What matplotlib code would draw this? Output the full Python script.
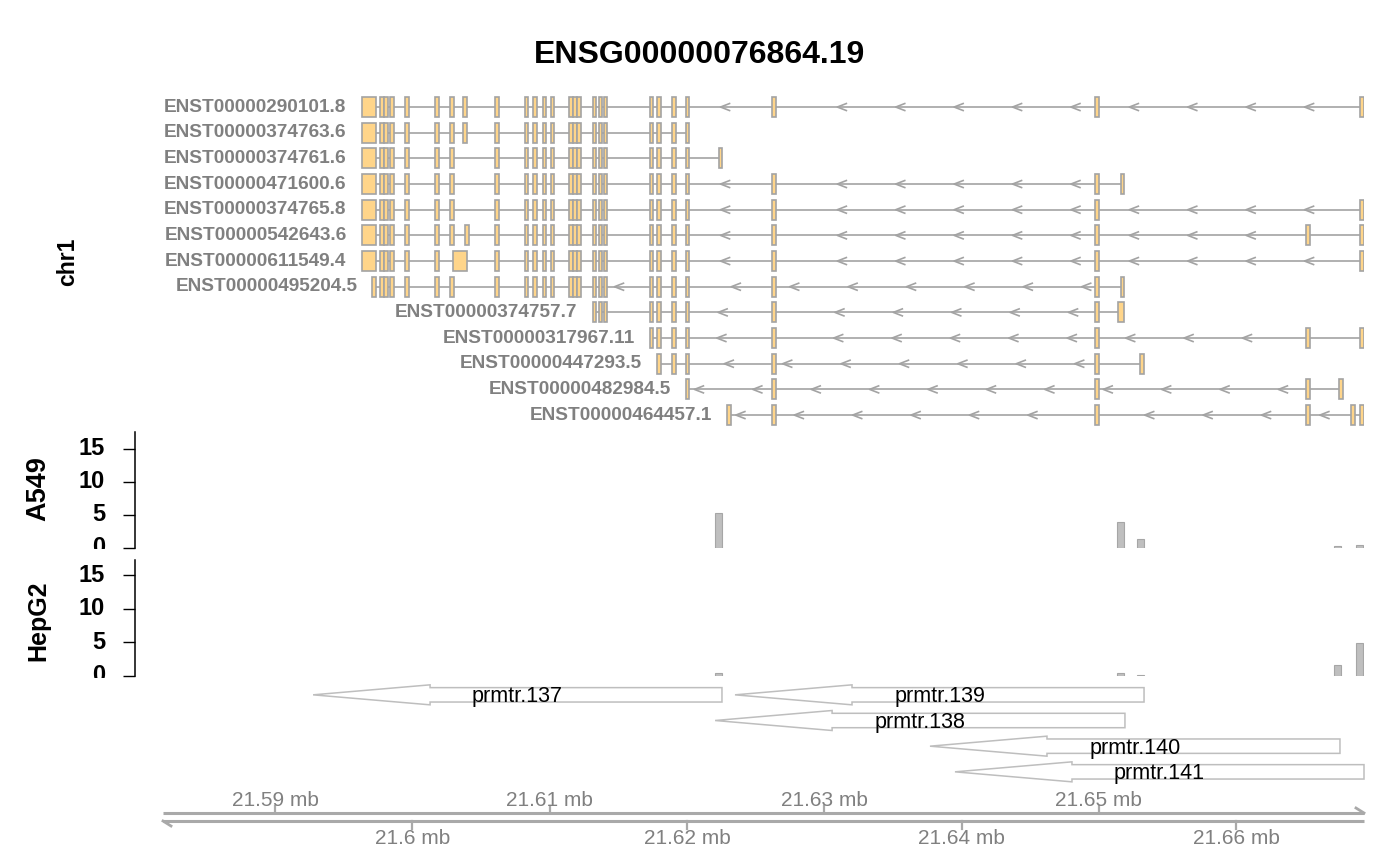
import matplotlib
matplotlib.use("Agg")
import matplotlib.pyplot as plt
from matplotlib.patches import Rectangle, Polygon
from matplotlib.transforms import Bbox, TransformedBbox, blended_transform_factory

plt.rcParams['font.family'] = ['Liberation Sans', 'DejaVu Sans']

# ------------------------------------------------------------
# Data
# ------------------------------------------------------------
gene_id = "ENSG00000076864.19"
chrom = "chr1"
view_from = 21581840
view_to = 21669310

exon_start = [21596300, 21597082, 21597667, 21597957, 21598397, 21599487,
              21601667, 21602767, 21603707, 21603837, 21602930, 21606037,
              21608187, 21608807, 21609497, 21610087, 21611427, 21611717,
              21612017, 21613137, 21613577, 21613947, 21617297, 21617837,
              21618927, 21619917, 21622317, 21622937, 21626217, 21649737,
              21651597, 21651420, 21653017, 21665107, 21667507, 21668387,
              21669037]
exon_end = [21597320, 21597338, 21597923, 21598213, 21598653, 21599743,
            21601923, 21603023, 21603963, 21604093, 21603950, 21606293,
            21608443, 21609063, 21609753, 21610343, 21611683, 21611973,
            21612273, 21613393, 21613833, 21614203, 21617553, 21618093,
            21619183, 21620173, 21622573, 21623193, 21626473, 21649993,
            21651853, 21651800, 21653273, 21665363, 21667763, 21668643,
            21669293]

core = list(range(12, 26))
tx_names = ["ENST00000290101.8", "ENST00000374763.6", "ENST00000374761.6",
            "ENST00000471600.6", "ENST00000374765.8", "ENST00000542643.6",
            "ENST00000611549.4", "ENST00000495204.5", "ENST00000374757.7",
            "ENST00000317967.11", "ENST00000447293.5", "ENST00000482984.5",
            "ENST00000464457.1"]
tx_exons = [
    [0, 2, 3, 4, 5, 6, 7, 8, 11] + core + [28, 29, 36],
    [0, 2, 3, 4, 5, 6, 7, 8, 11] + core,
    [0, 2, 3, 4, 5, 6, 7, 11] + core + [26],
    [0, 2, 3, 4, 5, 6, 7, 11] + core + [28, 29, 30],
    [0, 2, 3, 4, 5, 6, 7, 11] + core + [28, 29, 36],
    [0, 2, 3, 4, 5, 6, 7, 9, 11] + core + [28, 29, 33, 36],
    [0, 2, 3, 4, 5, 6, 10, 11] + core + [28, 29, 36],
    [1, 2, 3, 4, 5, 6, 7, 11] + core + [28, 29, 30],
    [19, 20, 21, 22, 23, 24, 25, 28, 29, 31],
    [22, 23, 24, 25, 28, 29, 33, 36],
    [23, 24, 25, 28, 29, 32],
    [25, 28, 29, 33, 34],
    [27, 28, 29, 33, 35, 36],
]

prom_names = ["prmtr.137", "prmtr.139", "prmtr.138", "prmtr.140", "prmtr.141"]
prom_start = [21592770, 21623500, 21622050, 21637700, 21639520]
prom_end = [21622550, 21653290, 21651900, 21667560, 21669310]
prom_row = [0, 0, 1, 2, 3]

bin_start = [21622050, 21651350, 21652800, 21667100, 21668750]
bin_end = [21622550, 21651850, 21653300, 21667600, 21669250]
a549 = [5.2, 3.8, 1.25, 0.2, 0.35]
hepg2 = [0.35, 0.35, 0.15, 1.6, 4.9]

axis_ticks = [21590000, 21600000, 21610000, 21620000,
              21630000, 21640000, 21650000, 21660000]

# ------------------------------------------------------------
# Styles
# ------------------------------------------------------------
W, H = 1400, 866
LEFT, RIGHT = 163, 1364
LINE = "#A3A3A3"
FILL = "#FFD58A"
PPB = (RIGHT - LEFT) / (view_to - view_from)   # pixels per bp

fig = plt.figure(figsize=(W / 100, H / 100), dpi=100)


def axes_px(top, bottom, left=LEFT, right=RIGHT):
    ax = fig.add_axes([left / W, 1 - bottom / H, (right - left) / W, (bottom - top) / H])
    ax.set_xlim(view_from, view_to)
    return ax


fig.text(0.5, 1 - 55 / H, gene_id, ha="center", va="center",
         fontsize=23, fontweight="bold")

# ------------------------------------------------------------
# Gene region track
# ------------------------------------------------------------
g_top, g_bot = 94.2, 427.9
n_tx = len(tx_names)
row_px = (g_bot - g_top) / n_tx
axg = axes_px(g_top, g_bot)
axg.set_ylim(n_tx - 0.5, -0.5)
axg.axis("off")

chev_step = 58.4 / PPB
chev_off = 13.1 / PPB
chev_w = 4.5 / PPB
chev_h = 3.5 / row_px
margin = 7.75 / PPB

for i, (name, ex) in enumerate(zip(tx_names, tx_exons)):
    segs = sorted((exon_start[j], exon_end[j]) for j in ex)
    t0 = segs[0][0]
    t1 = max(e for s, e in segs)
    axg.plot([t0, t1], [i, i], color=LINE, lw=1.2, zorder=1,
             solid_capstyle="butt")

    introns = []
    cur_end = segs[0][1]
    for s, e in segs[1:]:
        if s > cur_end:
            introns.append((cur_end, s))
        cur_end = max(cur_end, e)

    pos = t0 + chev_off
    while pos < t1:
        if any(a + margin <= pos <= b - margin for a, b in introns):
            axg.plot([pos + chev_w, pos - chev_w, pos + chev_w],
                     [i - chev_h, i, i + chev_h], color=LINE, lw=1.2, zorder=2)
        pos += chev_step

    for s, e in segs:
        axg.add_patch(Rectangle((s, i - 0.39), e - s, 0.78, facecolor=FILL,
                                edgecolor=LINE, lw=1.2, zorder=3))

    axg.annotate(name, xy=(t0, i), xytext=(-15, 0), textcoords="offset pixels",
                 ha="right", va="center", fontsize=13.7, fontweight="bold",
                 color="#808080", annotation_clip=False)

fig.text(68 / W, 1 - 262 / H, chrom, rotation=90, ha="center", va="center",
         fontsize=16.5, fontweight="bold")

# ------------------------------------------------------------
# Data tracks
# ------------------------------------------------------------
centers = [(s + e) / 2 for s, e in zip(bin_start, bin_end)]
widths = [e - s for s, e in zip(bin_start, bin_end)]


def data_track(top, bottom, ymax, values, title, tsize, clip_top, clip_bot, ty):
    ax = axes_px(top, bottom)
    ax.bar(centers, values, width=widths, color="#BFBFBF",
           edgecolor="#A6A6A6", lw=0.8)
    ax.set_ylim(-0.07, ymax)
    for sp in ["top", "right", "bottom"]:
        ax.spines[sp].set_visible(False)
    ax.spines["left"].set_position(("axes", (135 - LEFT) / (RIGHT - LEFT)))
    ax.spines["left"].set_linewidth(1.1)
    ax.set_xticks([])
    ax.set_yticks([0, 5, 10, 15])
    ax.tick_params(axis="y", length=8.6, width=1, labelleft=False)
    ax.patch.set_visible(False)

    trans = blended_transform_factory(fig.transFigure, ax.transData)
    clip = TransformedBbox(Bbox([[0, 1 - clip_bot / H], [1, 1 - clip_top / H]]),
                           fig.transFigure)
    for v in [0, 5, 10, 15]:
        t = fig.text(105 / W, v, str(v), transform=trans, ha="right",
                     va="center", fontsize=17, fontweight="bold")
        t.set_clip_box(clip)
        t.set_clip_on(True)

    fig.text(38 / W, 1 - ty / H, title, rotation=90, ha="center", va="center",
             fontsize=tsize, fontweight="bold")
    return ax


data_track(432, 548, 17.5, a549, "A549", 19.5, 428, 549, 489)
data_track(560, 676, 17.25, hepg2, "HepG2", 18, 549, 678, 621)

# ------------------------------------------------------------
# Promoter track
# ------------------------------------------------------------
axp = axes_px(682, 682 + 4 * row_px)
axp.set_ylim(3.5, -0.5)
axp.axis("off")
head = 117 / PPB
body_h = 7.2 / row_px
head_h = 10 / row_px
for name, s, e, r in zip(prom_names, prom_start, prom_end, prom_row):
    pts = [(s, r), (s + head, r - head_h), (s + head, r - body_h),
           (e, r - body_h), (e, r + body_h), (s + head, r + body_h),
           (s + head, r + head_h)]
    axp.add_patch(Polygon(pts, closed=True, facecolor="white",
                          edgecolor="#BEBEBE", lw=1.1, clip_on=False))
    axp.annotate(name, xy=((s + e) / 2, r), xytext=(0, -2),
                 textcoords="offset pixels", ha="center", va="center",
                 fontsize=15.5, annotation_clip=False)

# ------------------------------------------------------------
# Genome axis
# ------------------------------------------------------------
axa = axes_px(780, 860)
axa.set_ylim(860, 780)
axa.axis("off")
AX_COL = "#A9A9A9"
axa.plot([view_from, view_to], [813, 813], color=AX_COL, lw=2.2,
         solid_capstyle="butt", clip_on=False)
axa.plot([view_from, view_to], [821, 821], color=AX_COL, lw=2.2,
         solid_capstyle="butt", clip_on=False)
axa.plot([view_to - 8 / PPB, view_to], [808, 813], color=AX_COL, lw=2,
         clip_on=False)
axa.plot([view_from, view_from + 8 / PPB], [821, 826], color=AX_COL, lw=2,
         clip_on=False)
for k, v in enumerate(axis_ticks):
    lab = f"{v / 1e6:g} mb"
    if k % 2 == 0:
        axa.plot([v, v], [813, 806], color=AX_COL, lw=1.6)
        axa.text(v, 800, lab, ha="center", va="center", fontsize=15,
                 color="#808080")
    else:
        axa.plot([v, v], [821, 829], color=AX_COL, lw=1.6)
        axa.text(v, 838, lab, ha="center", va="center", fontsize=15,
                 color="#808080")

fig.savefig("out.png", dpi=100, facecolor="white")
